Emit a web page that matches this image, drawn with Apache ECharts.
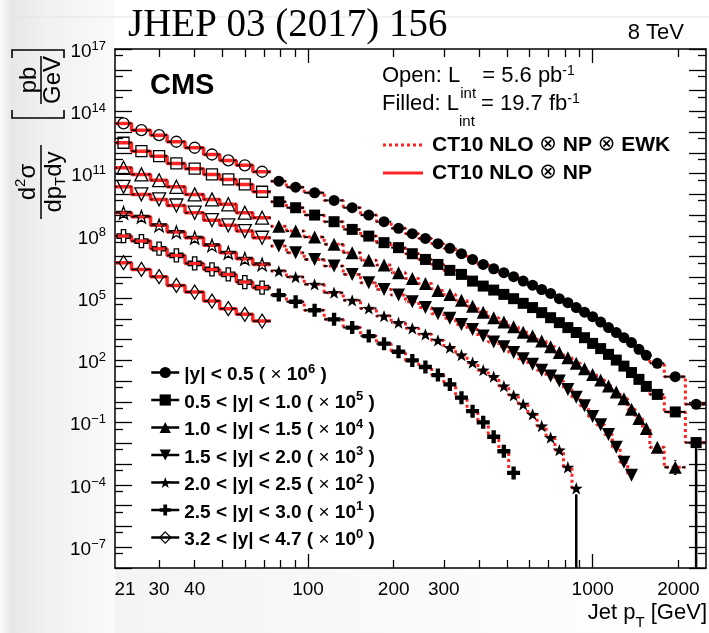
<!DOCTYPE html>
<html><head><meta charset="utf-8">
<script src="https://cdn.jsdelivr.net/npm/echarts@6/dist/echarts.min.js"></script>
<style>html,body{margin:0;padding:0;background:#fff}#c{width:709px;height:633px}</style>
</head><body><div id="c"></div>
<script>
// ---------------- data ----------------
const binLabels = ['|y| < 0.5','0.5 < |y| < 1.0','1.0 < |y| < 1.5','1.5 < |y| < 2.0','2.0 < |y| < 2.5','2.5 < |y| < 3.0','3.2 < |y| < 4.7'];
const scaleExp = [6,5,4,3,2,1,0];
const edgesOpen = [21,24,28,32,37,43,49,56,64,74];
const edgesFilled = [74,84,97,114,133,153,174,196,220,245,272,300,330,362,395,430,468,507,548,592,638,686,737,790,846,905,967,1032,1101,1172,1248,1327,1410,1497,1588,1784,2116,2500];

// open markers (5.6 pb^-1), scaled
const open0 = [2.6e13,1.23e13,7.1e12,3.4e12,1.75e12,8.3e11,4.3e11,2.5e11,1.22e11];
const open1 = [3.05e12,1.2e12,6.9e11,3.07e11,1.71e11,9.1e10,5.2e10,3.0e10,1.33e10];
const open2 = [1.9e11,9.1e10,4.8e10,2.3e10,9.9e9,5.7e9,3.3e9,1.3e9,7.5e8];
const open3 = [2.3e10,9.9e9,5.7e9,2.9e9,1.3e9,5.7e8,3.2e8,1.69e8,8.1e7];
const open4 = [1.3e9,8.3e8,3.2e8,1.51e8,8.1e7,3.5e7,1.54e7,7.9e6,4.2e6];
const open5 = [9.7e7,5.6e7,2.4e7,1.14e7,4.7e6,2.42e6,1.39e6,5.9e5,3.2e5];
const open6 = [5.1e6,2.42e6,1.08e6,4.1e5,1.95e5,7.2e4,3.1e4,1.65e4,7.8e3];

// filled markers (19.7 fb^-1), scaled
const filled0 = [4.3e10,2.2e10,1.19e10,5.1e9,2.26e9,1.0e9,4.8e8,2.3e8,1.27e8,7.5e7,4.2e7,2.5e7,1.38e7,7.3e6,
  4.2e6,2.6e6,1.68e6,1.08e6,6.6e5,4.2e5,2.6e5,1.69e5,9.4e4,6.0e4,3.5e4,2.1e4,1.28e4,7.0e3,3.8e3,2.2e3,1.24e3,7.2e2,3.4e2,1.75e2,
  72,16.5,0.77];
const filled1 = [4.4e9,2.26e9,1.0e9,4.8e8,2.04e8,9.7e7,4.7e7,2.7e7,1.38e7,7.3e6,4.2e6,2.17e6,1.39e6,6.6e5,
  3.8e5,2.44e5,1.51e5,9.4e4,5.6e4,3.5e4,2.0e4,1.14e4,6.6e3,3.8e3,2.2e3,1.24e3,6.6e2,3.7e2,1.95e2,1.04e2,53,26,12.2,5.6,
  2.3,0.33,0.011];
const filled2 = [2.9e8,1.69e8,8.7e7,3.9e7,1.54e7,6.6e6,3.9e6,1.68e6,8.9e5,5.0e5,2.36e5,1.51e5,7.8e4,4.1e4,
  2.1e4,1.14e4,7.0e3,4.2e3,2.3e3,1.49e3,8.5e2,4.6e2,2.4e2,1.36e2,72,40,21,11.3,5.8,3.0,1.44,0.44,0.16,0.052,
  6.5e-3,7.1e-4];
const filled3 = [3.2e7,1.54e7,7.3e6,3.5e6,1.39e6,5.5e5,2.6e5,1.4e5,6.7e4,3.5e4,1.78e4,1.06e4,5.4e3,3.1e3,
  1.49e3,7.6e2,4.6e2,2.4e2,1.21e2,65,34,17.6,10.1,4.0,1.66,0.65,0.20,0.079,0.027,6.5e-3,1.23e-3,2.9e-4];
const filled4 = [2.0e6,1.03e6,4.6e5,1.83e5,7.8e4,3.2e4,1.36e4,6.6e3,3.5e3,1.8e3,9.2e2,4.1e2,1.81e2,78,
  34,16.5,5.8,2.07,0.77,0.25,0.069,0.019,4.8e-3,7.1e-4,6.9e-5];
const filled5 = [1.4e5,6.7e4,2.6e4,9.5e3,3.8e3,1.49e3,6.4e2,2.6e2,1.0e2,48,19.7,7.0,1.61,0.36,
  0.104,0.021,4.2e-3,3.8e-4];

// visible vertical error bars: [group, filled bin index, low, high]
const vErr = [[1,36,1e-8,0.02],[2,34,3.5e-3,1.2e-2],[2,35,3e-4,1.6e-3],[3,30,7e-4,2.1e-3],[3,31,1.5e-4,5e-4],[4,24,1e-8,1.1e-4]];

// axis ticks / labels
const xTickMinor = [30,40,50,60,70,80,90,200,300,400,500,600,700,800,900,2000];
const xTickMajor = [100,1000];
const xTickLabels = [21,30,40,100,200,300,1000,2000];
const yLabelExp = [-7,-4,-1,2,5,8,11,14,17];

// ---------------- chart ----------------
const F = '"Liberation Sans", Arial, Helvetica, sans-serif';
const RED = '#ff2424';
const openVals = [open0,open1,open2,open3,open4,open5,open6];
const filledVals = [filled0,filled1,filled2,filled3,filled4,filled5];
const STAR = 'path://M0,-10L2.35,-3.24L9.51,-3.09L3.8,1.24L5.88,8.09L0,4L-5.88,8.09L-3.8,1.24L-9.51,-3.09L-2.35,-3.24Z';
const CROSS = 'path://M-1,-3H1V-1H3V1H1V3H-1V1H-3V-1H-1Z';
const SYM = ['circle','rect','triangle','triangle',STAR,CROSS,'diamond'];
const ROT = [0,0,0,180,0,0,0];
const SIZE = [11,11,13,13,13,13,[9,14]];
const HALF = [5.5,5.5,6.5,6.5,6,6.5,4.5];
const VHALF = [5.5,5.5,6.5,6.5,6,6.5,7];

function mkBins(edges, vals){ return vals.map((v,i)=>({lo:edges[i], hi:edges[i+1], v:v})); }
function ctr(b){ return (b.lo+b.hi)/2; }
function stepData(bs){ const d=[]; bs.forEach(b=>{ d.push([b.lo,b.v]); d.push([b.hi,b.v]); }); return d; }

function xErrSeries(bs, gap, w){
  return {type:'custom', silent:true, z:3, clip:true,
    dimensions:['lo','hi','v','c'],
    encode:{x:['lo','hi','c'], y:'v'},
    data: bs.map(b=>[b.lo,b.hi,b.v,ctr(b)]),
    renderItem:(params, api)=>{
      const y = api.value(2);
      const a = api.coord([api.value(0), y]);
      const b = api.coord([api.value(1), y]);
      const c = api.coord([api.value(3), y]);
      const kids = [];
      if (c[0]-gap > a[0]) kids.push({type:'line', shape:{x1:a[0],y1:a[1],x2:c[0]-gap,y2:a[1]}, style:{stroke:'#000', lineWidth:w}});
      if (b[0] > c[0]+gap) kids.push({type:'line', shape:{x1:c[0]+gap,y1:b[1],x2:b[0],y2:b[1]}, style:{stroke:'#000', lineWidth:w}});
      return {type:'group', children:kids};
    }};
}
function markerSeries(name, bs, g, filled){
  return {type:'line', name:name, data: bs.map(b=>[ctr(b), b.v]),
    symbol:SYM[g], symbolSize:SIZE[g], symbolRotate:ROT[g], symbolKeepAspect:true, showAllSymbol:true,
    lineStyle:{opacity:0, width:0},
    itemStyle: filled ? {color:'#000', borderWidth:0} : {color:'rgba(0,0,0,0)', borderColor:'#000', borderWidth:1.3},
    z:4, silent:true, emphasis:{disabled:true}, clip:false, animation:false};
}

const series = [];
const fBinsAll = [];
for (let g=0; g<7; g++){
  const oB = mkBins(edgesOpen, openVals[g]);
  const fB = g<6 ? mkBins(edgesFilled, filledVals[g]) : [];
  fBinsAll.push(fB);
  series.push({type:'line', data:stepData(oB), symbol:'none', lineStyle:{color:RED, width:3.5}, z:2, silent:true, animation:false});
  if (fB.length) series.push({type:'line', data:stepData(fB), symbol:'none', lineStyle:{color:RED, width:3, type:[3,3]}, z:2, silent:true, animation:false});
  series.push(xErrSeries(oB, HALF[g], 1.6));
  if (fB.length) series.push(xErrSeries(fB, HALF[g], 2));
  series.push(markerSeries(g===6 ? binLabels[6] : binLabels[g]+' open', oB, g, false));
  if (fB.length) series.push(markerSeries(binLabels[g], fB, g, true));
}
series.push({type:'custom', silent:true, z:3, clip:true,
  dimensions:['x','lo','hi','v','gap'],
  encode:{x:'x', y:['lo','hi','v']},
  data: vErr.map(e=>{ const b = fBinsAll[e[0]][e[1]]; return [ctr(b), e[2], e[3], b.v, VHALF[e[0]]]; }),
  renderItem:(params, api)=>{
    const x = api.value(0);
    const lo = api.coord([x, api.value(1)]);
    const hi = api.coord([x, api.value(2)]);
    const c = api.coord([x, api.value(3)]);
    const gap = api.value(4);
    const kids = [];
    if (lo[1] > c[1]+gap) kids.push({type:'line', shape:{x1:lo[0],y1:lo[1],x2:lo[0],y2:c[1]+gap}, style:{stroke:'#000', lineWidth:2.5}});
    if (hi[1] < c[1]-gap) kids.push({type:'line', shape:{x1:hi[0],y1:hi[1],x2:hi[0],y2:c[1]-gap}, style:{stroke:'#000', lineWidth:2.5}});
    return {type:'group', children:kids};
  }});

const L = Math.log10;
const xMin = 21, xMax = 2500, yMinE = -8, yMaxE = 17;
const axisLineOn = {show:true, onZero:false, lineStyle:{color:'#000', width:1.5}};
const axisLineOff = {show:false, onZero:false};
function xDecor(pos, len, ticks, labels, line){
  return {type:'value', min:L(xMin), max:L(xMax), position:pos,
    axisLine: line ? axisLineOn : axisLineOff,
    axisTick:{show:true, inside:true, length:len, customValues:ticks.map(L), lineStyle:{color:'#000', width:1.3}},
    axisLabel: labels ? {show:true, customValues:labels.map(L), margin:12, color:'#000', fontFamily:F, fontSize:19, lineHeight:20,
      formatter:v=>{ const n=Math.round(Math.pow(10,v)); return n===21 ? '{sh|21}' : '{n|'+n+'}'; },
      rich:{sh:{fontSize:19, fontFamily:F, color:'#000', padding:[0,0,0,20], lineHeight:20}, n:{fontSize:19, fontFamily:F, color:'#000', lineHeight:20}}}
      : {show:false},
    splitLine:{show:false}};
}
const yMajor = []; for (let e=yMinE; e<=yMaxE; e++) yMajor.push(e);
const yMinor = []; for (let e=yMinE+1; e<=yMaxE; e++) yMinor.push(e - 0.301);
function yDecor(pos, len, ticks, labels, line){
  return {type:'value', min:yMinE, max:yMaxE, position:pos,
    axisLine: line ? axisLineOn : axisLineOff,
    axisTick:{show:true, inside:true, length:len, customValues:ticks, lineStyle:{color:'#000', width:1.3}},
    axisLabel: labels ? {show:true, customValues:labels, margin:9, color:'#000',
      formatter:v=>'{b|10}{s|'+(v<0?'\u2212'+(-v):v)+'}',
      rich:{b:{fontSize:19, fontFamily:F, color:'#000', lineHeight:19, padding:[5,0,0,0]},
            s:{fontSize:13, fontFamily:F, color:'#000', lineHeight:13, verticalAlign:'top'}}} : {show:false},
    splitLine:{show:false}};
}

const legendRich = {
  b:{fontSize:19, fontWeight:'bold', fontFamily:F, color:'#000', lineHeight:20, padding:[5,0,0,0]},
  x:{fontSize:19, fontWeight:'normal', fontFamily:F, color:'#000', lineHeight:20, padding:[5,0,0,0]},
  s:{fontSize:13, fontWeight:'bold', fontFamily:F, color:'#000', lineHeight:13, verticalAlign:'top'}
};

const txt = (o)=>Object.assign({fill:'#000', fontFamily:F}, o);
const yTitleRich = {
  a:{fontSize:24, fontFamily:F, fill:'#000', lineHeight:24},
  s:{fontSize:15, fontFamily:F, fill:'#000', lineHeight:15, padding:[0,0,14,0]},
  t:{fontSize:15, fontFamily:F, fill:'#000', lineHeight:15, padding:[14,0,0,0]}
};

const option = {
  animation:false,
  backgroundColor:'#fff',
  grid:{left:115, top:49, right:3, bottom:65, show:false},
  xAxis:[
    {type:'log', min:xMin, max:xMax, show:false},
    xDecor('bottom', 8, xTickMinor, xTickLabels, true),
    xDecor('bottom', 14, xTickMajor, null, false),
    xDecor('top', 8, xTickMinor, null, true),
    xDecor('top', 14, xTickMajor, null, false)
  ],
  yAxis:[
    {type:'log', min:Math.pow(10,yMinE), max:Math.pow(10,yMaxE), show:false},
    yDecor('left', 17, yMajor, yLabelExp, true),
    yDecor('left', 8, yMinor, null, false),
    yDecor('right', 17, yMajor, null, true),
    yDecor('right', 8, yMinor, null, false)
  ],
  legend:{left:145, top:355.5, orient:'vertical', itemWidth:28, itemHeight:14, itemGap:3.5, selectedMode:false,
    data: binLabels.map((n,i)=>({name:n, itemStyle: i===6 ? {color:'rgba(0,0,0,0)', borderColor:'#000', borderWidth:1.2, opacity:1} : {color:'#000', borderColor:'#000', borderWidth:0, opacity:1}})),
    lineStyle:{color:'#000', width:2.5, opacity:1, type:'solid'},
    formatter: name=>{ const i = binLabels.indexOf(name); return '{b|'+name+' ( }{x|\u00d7}{b| 10}{s|'+scaleExp[i]+'}{b| )}'; },
    textStyle:{color:'#000', fontFamily:F, fontSize:19, rich:legendRich}},
  series: series,
  graphic:{elements:[
    {type:'rect', silent:true, z:-10, shape:{x:0,y:0,width:115,height:633},
      style:{fill:new echarts.graphic.LinearGradient(0,0,1,0,[{offset:0,color:'#fbfbfb'},{offset:0.1,color:'#e7e7e7'},{offset:0.4,color:'#f1f1f1'},{offset:1,color:'#fafafa'}])}},
    {type:'rect', silent:true, z:-10, shape:{x:115,y:568,width:594,height:65},
      style:{fill:new echarts.graphic.LinearGradient(0,0,1,0,[{offset:0,color:'#f4f4f4'},{offset:1,color:'#ffffff'}])}},
    {type:'line', silent:true, z:-9, shape:{x1:10,y1:17,x2:709,y2:17}, style:{stroke:'#e4e4e4', lineWidth:1}},
    {type:'text', silent:true, z:10, x:128, y:26, style:{text:'JHEP 03 (2017) 156', fontFamily:'"Liberation Serif", "DejaVu Serif", serif', fontSize:39, fill:'#000', align:'left', textAlign:'left', verticalAlign:'middle', textVerticalAlign:'middle'}},
    {type:'text', silent:true, z:10, x:684, y:33, style:txt({text:'8 TeV', fontSize:22, align:'right', textAlign:'right', verticalAlign:'middle', textVerticalAlign:'middle'})},
    {type:'text', silent:true, z:10, x:150, y:86, style:txt({text:'CMS', fontSize:29, fontWeight:'bold', align:'left', textAlign:'left', verticalAlign:'middle', textVerticalAlign:'middle'})},
    {type:'text', silent:true, z:10, x:382, y:76, style:txt({text:'{n|Open: L}{sub|int}{n| = 5.6 pb}{sup|-1}', align:'left', textAlign:'left', verticalAlign:'middle', textVerticalAlign:'middle',
      rich:{n:{fontSize:22, fontFamily:F, fill:'#000', lineHeight:22}, sub:{fontSize:15, fontFamily:F, fill:'#000', lineHeight:15, padding:[36,0,0,0]}, sup:{fontSize:14, fontFamily:F, fill:'#000', lineHeight:14, padding:[0,0,10,0]}}})},
    {type:'text', silent:true, z:10, x:382, y:104, style:txt({text:'{n|Filled: L}{sub|int}{n| = 19.7 fb}{sup|-1}', align:'left', textAlign:'left', verticalAlign:'middle', textVerticalAlign:'middle',
      rich:{n:{fontSize:22, fontFamily:F, fill:'#000', lineHeight:22}, sub:{fontSize:15, fontFamily:F, fill:'#000', lineHeight:15, padding:[36,0,0,0]}, sup:{fontSize:14, fontFamily:F, fill:'#000', lineHeight:14, padding:[0,0,10,0]}}})},
    {type:'line', silent:true, z:10, shape:{x1:383,y1:145,x2:423,y2:145}, style:{stroke:RED, lineWidth:3, lineDash:[3,3]}},
    {type:'text', silent:true, z:10, x:432, y:145, style:txt({text:'{b|CT10 NLO }{o|\u2297}{b| NP }{o|\u2297}{b| EWK}', align:'left', textAlign:'left', verticalAlign:'middle', textVerticalAlign:'middle',
      rich:{b:{fontSize:21, fontWeight:'bold', fontFamily:F, fill:'#000'}, o:{fontSize:21, fontFamily:'"DejaVu Sans", sans-serif', fill:'#000'}}})},
    {type:'line', silent:true, z:10, shape:{x1:383,y1:173,x2:423,y2:173}, style:{stroke:RED, lineWidth:3}},
    {type:'text', silent:true, z:10, x:432, y:173, style:txt({text:'{b|CT10 NLO }{o|\u2297}{b| NP}', align:'left', textAlign:'left', verticalAlign:'middle', textVerticalAlign:'middle',
      rich:{b:{fontSize:21, fontWeight:'bold', fontFamily:F, fill:'#000'}, o:{fontSize:21, fontFamily:'"DejaVu Sans", sans-serif', fill:'#000'}}})},
    {type:'text', silent:true, z:10, x:707, y:613, style:txt({text:'{a|Jet p}{t|T}{a| [GeV]}', align:'right', textAlign:'right', verticalAlign:'middle', textVerticalAlign:'middle',
      rich:{a:{fontSize:22, fontFamily:F, fill:'#000', lineHeight:22}, t:{fontSize:15, fontFamily:F, fill:'#000', lineHeight:15, padding:[20,0,0,0]}}})},
    {type:'group', silent:true, z:10, x:0, y:0, rotation:Math.PI/2, children:[
      {type:'text', x:-80, y:29, style:txt({text:'pb', fontSize:24, align:'center', textAlign:'center', verticalAlign:'middle', textVerticalAlign:'middle'})},
      {type:'text', x:-80, y:53, style:txt({text:'GeV', fontSize:24, align:'center', textAlign:'center', verticalAlign:'middle', textVerticalAlign:'middle'})},
      {type:'line', shape:{x1:-56,y1:41,x2:-104,y2:41}, style:{stroke:'#000', lineWidth:1.5}},
      {type:'polyline', shape:{points:[[-58,12],[-50,12],[-50,64],[-58,64]]}, style:{stroke:'#000', lineWidth:1.6, fill:null}},
      {type:'polyline', shape:{points:[[-110,12],[-118,12],[-118,64],[-110,64]]}, style:{stroke:'#000', lineWidth:1.6, fill:null}},
      {type:'text', x:-182, y:28, style:txt({text:'{a|d}{s|2}{a|\u03c3}', align:'center', textAlign:'center', verticalAlign:'middle', textVerticalAlign:'middle', rich:yTitleRich})},
      {type:'text', x:-182, y:54, style:txt({text:'{a|dp}{t|T}{a|dy}', align:'center', textAlign:'center', verticalAlign:'middle', textVerticalAlign:'middle', rich:yTitleRich})},
      {type:'line', shape:{x1:-145,y1:41,x2:-219,y2:41}, style:{stroke:'#000', lineWidth:1.5}}
    ]}
  ]}
};
const chart = echarts.init(document.getElementById('c'), null, {renderer:'canvas'});
chart.setOption(option);
</script>
</body></html>
